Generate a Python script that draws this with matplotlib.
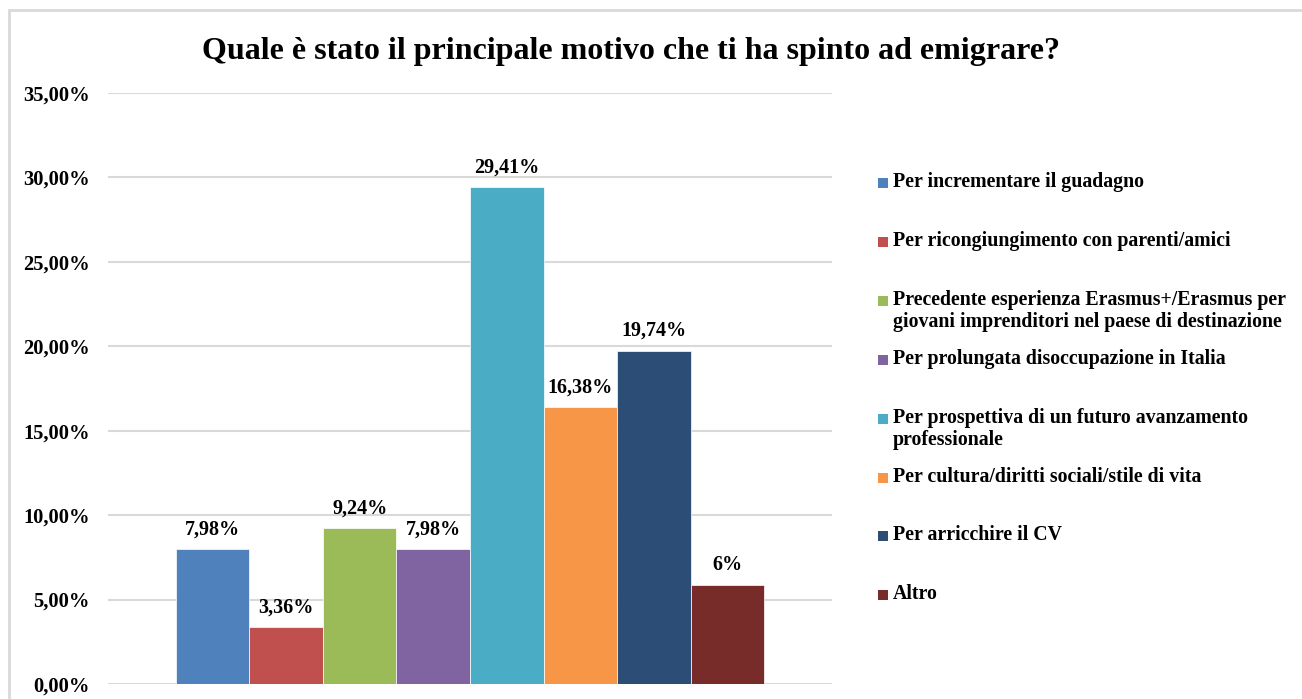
import matplotlib.pyplot as plt
from matplotlib.patches import Rectangle
import numpy as np

categories = [
    'Per incrementare il guadagno',
    'Per ricongiungimento con parenti/amici',
    'Precedente esperienza Erasmus+/Erasmus per\ngiovani imprenditori nel paese di destinazione',
    'Per prolungata disoccupazione in Italia',
    'Per prospettiva di un futuro avanzamento\nprofessionale',
    'Per cultura/diritti sociali/stile di vita',
    'Per arricchire il CV',
    'Altro',
]
values = [7.98, 3.36, 9.24, 7.98, 29.41, 16.38, 19.74, 5.88]
value_labels = ['7,98%', '3,36%', '9,24%', '7,98%', '29,41%', '16,38%', '19,74%', '6%']
colors = ['#4F81BD', '#C0504D', '#9BBB59', '#8064A2', '#4BACC6', '#F79646', '#2C4D75', '#772C2A']
yticks = [0, 5, 10, 15, 20, 25, 30, 35]
ytick_labels = ['0,00%', '5,00%', '10,00%', '15,00%', '20,00%', '25,00%', '30,00%', '35,00%']

plt.rcParams['font.family'] = ['Liberation Serif', 'DejaVu Serif']
plt.rcParams['font.weight'] = 'bold'

W, H = 1302, 699
fig = plt.figure(figsize=(W / 100, H / 100), dpi=100)

# light frame around the chart
fig.patches.append(Rectangle((9 / W, -0.05), 1.2, 1 - 10 / H + 0.05, transform=fig.transFigure,
                             fill=False, edgecolor='#D9D9D9', linewidth=2))

ax = fig.add_axes([108 / W, 1 - 684 / H, (832 - 108) / W, (684 - 93) / H])
x = np.arange(len(values))
bars = ax.bar(x, values, width=1.0, color=colors, edgecolor='white', linewidth=0.5, zorder=3)

for bar, lab in zip(bars, value_labels):
    ax.annotate(lab, (bar.get_x() + bar.get_width() / 2, bar.get_height()),
                xytext=(0, 7), textcoords='offset points', ha='center', va='bottom',
                fontsize=14.5, fontweight='bold')

ax.set_ylim(0, 35)
ax.set_xlim(-1.42, 8.42)
ax.set_yticks(yticks)
ax.set_yticklabels(ytick_labels, fontsize=14.8, fontweight='bold')
ax.set_xticks([])
ax.tick_params(axis='y', length=0, pad=13)
ax.grid(axis='y', color='#D9D9D9', linewidth=1.5, zorder=0)
for s in ax.spines.values():
    s.set_visible(False)

fig.text(631 / W, 1 - 52 / H, 'Quale è stato il principale motivo che ti ha spinto ad emigrare?',
         ha='center', va='center', fontsize=23, fontweight='bold')

# legend, entries at even spacing, text top aligned like Excel
y0 = 172
step = 58.9
for i, (cat, col) in enumerate(zip(categories, colors)):
    yt = y0 + i * step
    fig.patches.append(Rectangle((878 / W, 1 - (yt + 16) / H), 10 / W, 10 / H,
                                 transform=fig.transFigure, facecolor=col, edgecolor='none'))
    fig.text(893 / W, 1 - yt / H, cat, ha='left', va='top', fontsize=14.3, fontweight='bold',
             linespacing=1.15)

fig.savefig('out.png', dpi=100)
